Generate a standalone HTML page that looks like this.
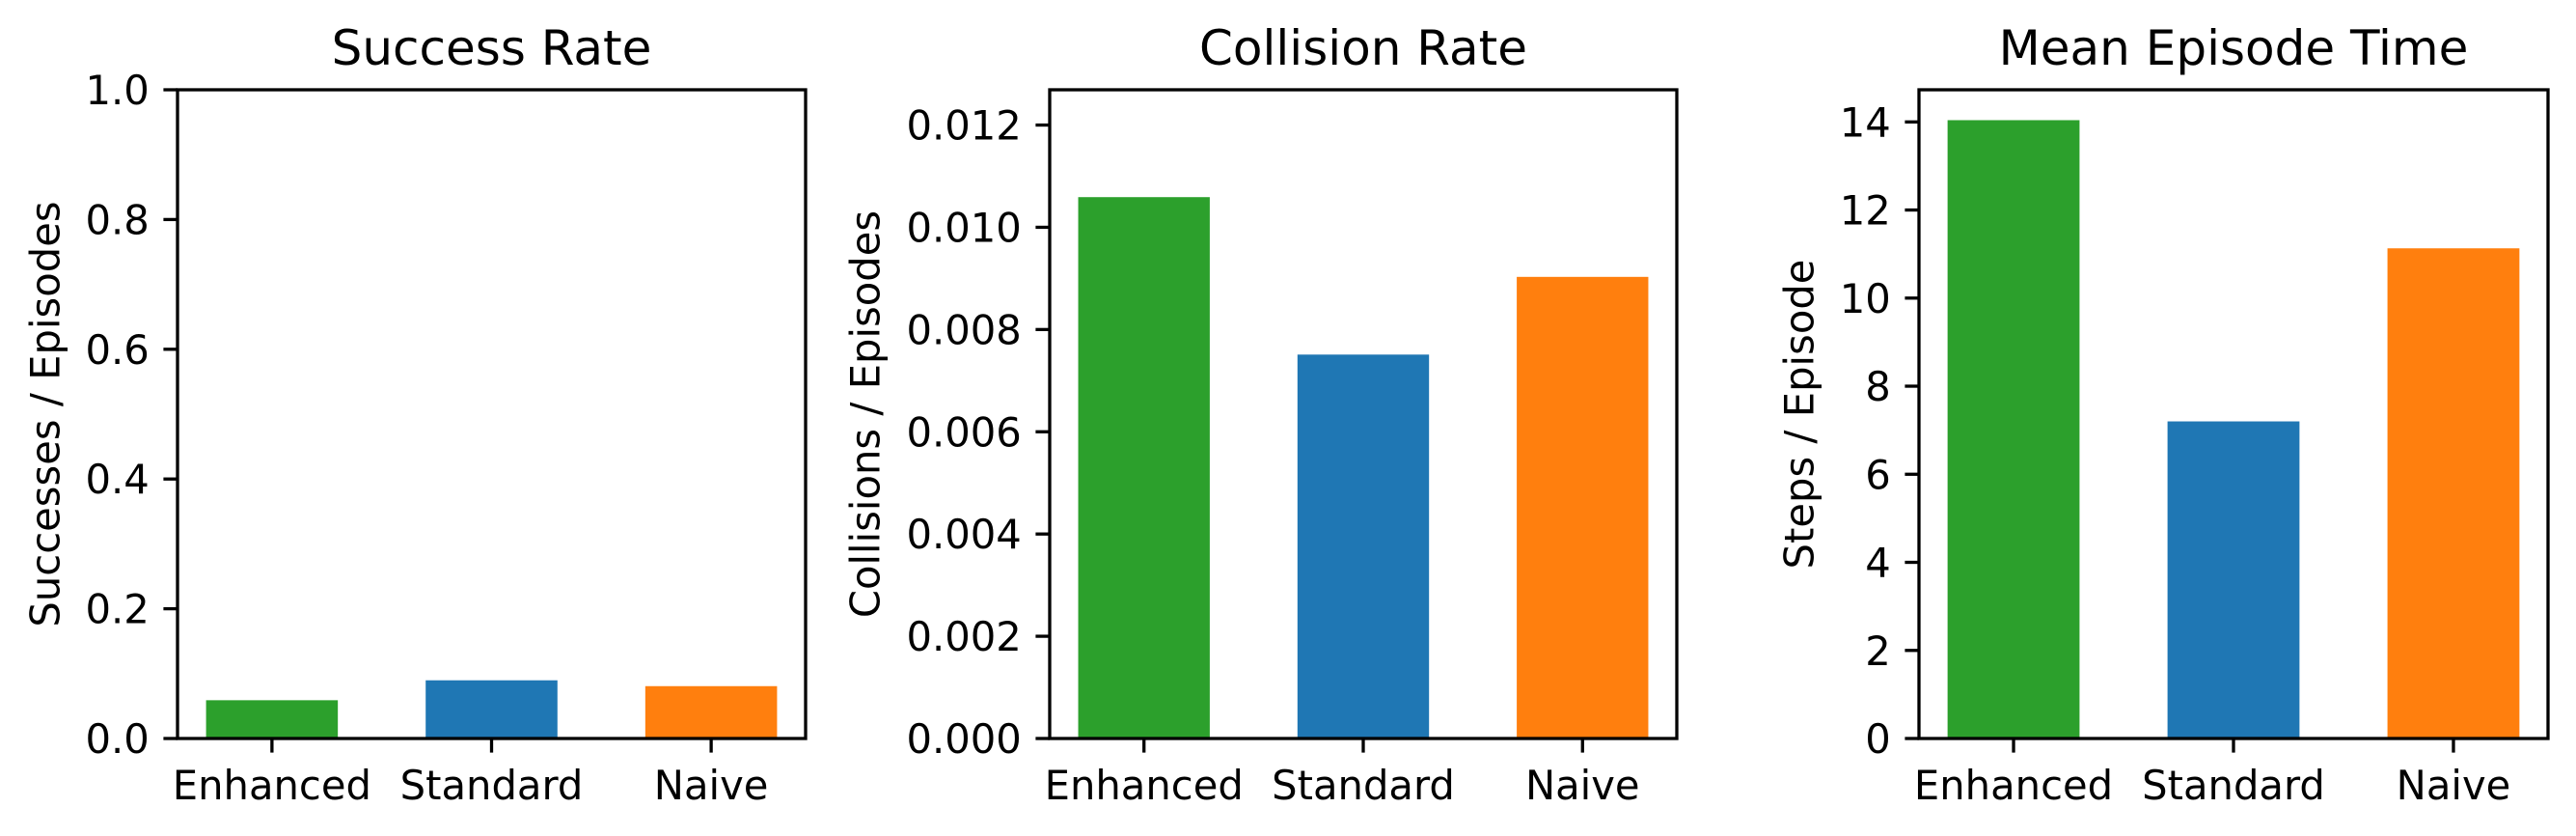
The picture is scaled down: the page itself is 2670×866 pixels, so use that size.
<!DOCTYPE html>
<html><head><meta charset="utf-8"><style>
html,body{margin:0;padding:0;background:#fff;}
svg{display:block;font-family:"DejaVu Sans","Liberation Sans",sans-serif;}
</style></head>
<body>
<svg id="fig" width="2670" height="866" viewBox="0 0 2670 866"></svg>
<script>
const categories = ["Enhanced", "Standard", "Naive"];
const barColors = ["#2ca02c", "#1f77b4", "#ff7f0e"];
const successValues = [0.059, 0.0897, 0.0807];
const collisionValues = [0.01059, 0.00751, 0.00903];
const timeValues = [14.04, 7.2, 11.13];
const successTicks = [0, 0.2, 0.4, 0.6, 0.8, 1.0];
const successTickLabels = ["0.0", "0.2", "0.4", "0.6", "0.8", "1.0"];
const collisionTicks = [0, 0.002, 0.004, 0.006, 0.008, 0.010, 0.012];
const collisionTickLabels = ["0.000", "0.002", "0.004", "0.006", "0.008", "0.010", "0.012"];
const timeTicks = [0, 2, 4, 6, 8, 10, 12, 14];
const timeTickLabels = ["0", "2", "4", "6", "8", "10", "12", "14"];

const NS = "http://www.w3.org/2000/svg";
const fig = document.getElementById("fig");
function mk(tag, attrs, parent) {
  const e = document.createElementNS(NS, tag);
  for (const k in attrs) e.setAttribute(k, attrs[k]);
  (parent || fig).appendChild(e);
  return e;
}
const TOP = 93, BOT = 765, TICK = 14.6, LW = 3.3;

function panel(key, left, right, title, ylabel, ylabelX, values, ymax, ticks, tickLabels) {
  const g = mk("g", {});
  
  
  const xmin = -0.43, xmax = 2.43;
  const xs = v => left + (v - xmin) / (xmax - xmin) * (right - left);
  const ys = v => BOT - v / ymax * (BOT - TOP);
  values.forEach((v, i) => {
    const r = mk("rect", {x: xs(i - 0.3), y: ys(v), width: xs(i + 0.3) - xs(i - 0.3), height: BOT - ys(v), fill: barColors[i]}, g);
    
    
  });
  const frame = mk("rect", {x: left, y: TOP, width: right - left, height: BOT - TOP, fill: "none", stroke: "#000", "stroke-width": LW}, g);
  
  
  ticks.forEach((t, i) => {
    const y = ys(t);
    mk("line", {x1: left - TICK, x2: left, y1: y, y2: y, stroke: "#000", "stroke-width": LW}, g);
    const tx = mk("text", {x: left - TICK - 14.6, y: y + 15, "text-anchor": "end", "font-size": 41.7}, g);
    tx.textContent = tickLabels[i];
    
    
  });
  categories.forEach((c, i) => {
    const x = xs(i);
    mk("line", {x1: x, x2: x, y1: BOT, y2: BOT + TICK, stroke: "#000", "stroke-width": LW}, g);
    const tx = mk("text", {x: x, y: 828, "text-anchor": "middle", "font-size": 41.7}, g);
    tx.textContent = c;
    
    
  });
  const t = mk("text", {x: (left + right) / 2, y: 67, "text-anchor": "middle", "font-size": 50}, g);
  t.textContent = title;
  
  
  const cy = (TOP + BOT) / 2;
  const yl = mk("text", {x: ylabelX, y: cy, "text-anchor": "middle", "dominant-baseline": "central", "font-size": 41.7, transform: "rotate(-90 " + ylabelX + " " + cy + ")"}, g);
  yl.textContent = ylabel;
  
  
}
panel("success", 184, 835, "Success Rate", "Successes / Episodes", 47, successValues, 1.0, successTicks, successTickLabels);
panel("collision", 1088, 1738, "Collision Rate", "Collisions / Episodes", 897, collisionValues, 0.01269, collisionTicks, collisionTickLabels);
panel("time", 1989, 2641, "Mean Episode Time", "Steps / Episode", 1865, timeValues, 14.73, timeTicks, timeTickLabels);
</script>
</body></html>
